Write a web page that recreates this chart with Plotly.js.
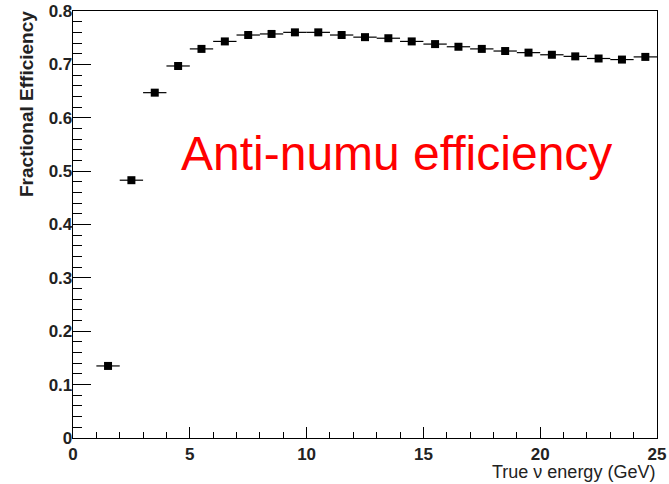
<!DOCTYPE html>
<html>
<head>
<meta charset="utf-8">
<script src="https://cdn.plot.ly/plotly-3.0.1.min.js"></script>
<style>html,body{margin:0;padding:0;background:#fff;}</style>
</head>
<body>
<div id="chart" style="width:669px;height:484px;"></div>
<script>
// Bin centres (GeV), bin half-width, and fractional efficiency values
const energyBins = [1.5, 2.5, 3.5, 4.5, 5.5, 6.5, 7.5, 8.5, 9.5, 10.5, 11.5, 12.5,
  13.5, 14.5, 15.5, 16.5, 17.5, 18.5, 19.5, 20.5, 21.5, 22.5, 23.5, 24.5];
const binHalfWidth = [0.5, 0.5, 0.5, 0.5, 0.5, 0.5, 0.5, 0.5, 0.5, 0.5, 0.5, 0.5,
  0.5, 0.5, 0.5, 0.5, 0.5, 0.5, 0.5, 0.5, 0.5, 0.5, 0.5, 0.5];
const efficiency = [0.135, 0.483, 0.647, 0.697, 0.729, 0.743, 0.755, 0.757, 0.760, 0.760, 0.755, 0.751,
  0.749, 0.743, 0.738, 0.733, 0.729, 0.725, 0.722, 0.718, 0.715, 0.711, 0.709, 0.714];
const xTickVals = [0, 5, 10, 15, 20, 25];
const yTickVals = [0, 0.1, 0.2, 0.3, 0.4, 0.5, 0.6, 0.7, 0.8];
const yTickText = ["0", "0.1", "0.2", "0.3", "0.4", "0.5", "0.6", "0.7", "0.8"];
const yTitle = "Fractional Efficiency";
const xTitle = "True \u03BD energy (GeV)";
const overlayLabel = "Anti-numu efficiency";

const tickFont = {family: "Liberation Sans, Arial, sans-serif", size: 17, color: "#222", weight: "bold"};

const trace = {
  x: energyBins,
  y: efficiency,
  type: "scatter",
  mode: "markers",
  marker: {symbol: "square", size: 8, color: "#000"},
  error_x: {type: "data", array: binHalfWidth, visible: true, color: "#000", thickness: 1.2, width: 0},
  showlegend: false,
  hoverinfo: "x+y"
};

const layout = {
  width: 669,
  height: 484,
  margin: {l: 73, r: 12, t: 11, b: 46, pad: 0},
  paper_bgcolor: "#fff",
  plot_bgcolor: "#fff",
  xaxis: {
    range: [0, 25],
    tickvals: xTickVals,
    ticks: "inside",
    ticklen: 11,
    tickwidth: 1,
    tickcolor: "#000",
    minor: {dtick: 1, ticks: "inside", ticklen: 6, tickwidth: 1, tickcolor: "#000", showgrid: false},
    showline: true,
    linecolor: "#000",
    linewidth: 1.3,
    mirror: true,
    showgrid: false,
    zeroline: false,
    tickfont: tickFont
  },
  yaxis: {
    range: [0, 0.8],
    tickvals: yTickVals,
    ticktext: yTickText,
    ticks: "inside",
    ticklen: 18,
    tickwidth: 1,
    tickcolor: "#000",
    minor: {dtick: 0.02, ticks: "inside", ticklen: 9, tickwidth: 1, tickcolor: "#000", showgrid: false},
    showline: true,
    linecolor: "#000",
    linewidth: 1.3,
    mirror: true,
    showgrid: false,
    zeroline: false,
    ticklabelstandoff: -4,
    tickfont: tickFont
  },
  annotations: [
    {
      text: yTitle, xref: "paper", yref: "paper", x: -0.0805, y: 1,
      xanchor: "center", yanchor: "top", yshift: 2, textangle: -90, showarrow: false,
      font: {family: "Liberation Sans, Arial, sans-serif", size: 19, color: "#222", weight: "bold"}
    },
    {
      text: xTitle, xref: "paper", yref: "paper", x: 1, y: 0,
      xanchor: "right", yanchor: "top", yshift: -22, showarrow: false,
      font: {family: "Liberation Sans, Arial, sans-serif", size: 18, color: "#222"}
    },
    {
      text: overlayLabel, xref: "x", yref: "y", x: 13.85, y: 0.533,
      xanchor: "center", yanchor: "middle", showarrow: false,
      font: {family: "Liberation Sans, Arial, sans-serif", size: 48, color: "#ff0000"}
    }
  ]
};

Plotly.newPlot("chart", [trace], layout, {staticPlot: true, displayModeBar: false});
</script>
</body>
</html>
